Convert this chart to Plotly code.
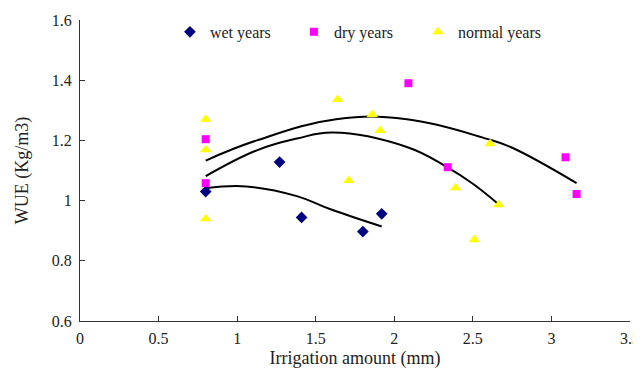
import plotly.graph_objects as go

# Data
wet_x = [0.80, 1.27, 1.41, 1.80, 1.92]
wet_y = [1.03, 1.128, 0.944, 0.897, 0.956]

dry_x = [0.80, 0.80, 2.09, 2.34, 3.09, 3.16]
dry_y = [1.204, 1.058, 1.39, 1.111, 1.144, 1.022]

normal_x = [0.80, 0.80, 0.80, 1.64, 1.71, 1.86, 1.91, 2.39, 2.51, 2.61, 2.665]
normal_y = [1.27, 1.169, 0.94, 1.336, 1.067, 1.286, 1.233, 1.043, 0.87, 1.189, 0.986]

# Trend curves
wet_trend_x = [0.80, 1.06, 1.38, 1.59, 1.92]
wet_trend_y = [1.041, 1.047, 1.015, 0.972, 0.914]

normal_trend_x = [0.80, 1.125, 1.38, 1.61, 2.08, 2.33, 2.50, 2.665]
normal_trend_y = [1.081, 1.167, 1.206, 1.226, 1.178, 1.113, 1.056, 0.987]

dry_trend_x = [0.80, 1.125, 1.63, 2.08, 2.59, 2.74, 3.16]
dry_trend_y = [1.133, 1.200, 1.270, 1.270, 1.205, 1.178, 1.058]

x_ticks = [0, 0.5, 1, 1.5, 2, 2.5, 3, 3.5]
y_ticks = [0.6, 0.8, 1.0, 1.2, 1.4, 1.6]

FONT = "'Times New Roman', 'Liberation Serif', Times, serif"

fig = go.Figure()

for tx, ty in [(wet_trend_x, wet_trend_y), (normal_trend_x, normal_trend_y), (dry_trend_x, dry_trend_y)]:
    fig.add_trace(go.Scatter(x=tx, y=ty, mode="lines", showlegend=False,
                             line=dict(color="black", width=2, shape="spline", smoothing=1.2),
                             hoverinfo="skip"))

fig.add_trace(go.Scatter(x=wet_x, y=wet_y, mode="markers", name="wet years",
                         marker=dict(symbol="diamond", size=9, color="#000080")))
fig.add_trace(go.Scatter(x=dry_x, y=dry_y, mode="markers", name="dry years",
                         marker=dict(symbol="square", size=8, color="#FF00FF")))
fig.add_trace(go.Scatter(x=normal_x, y=normal_y, mode="markers", name="normal years",
                         marker=dict(symbol="triangle-up", size=10, color="#FFFF00")))

fig.update_layout(
    width=641, height=366,
    margin=dict(l=72, r=19, t=12, b=53, autoexpand=False),
    paper_bgcolor="white", plot_bgcolor="white",
    font=dict(family=FONT, size=16, color="#222"),
    legend=dict(orientation="h", x=0.1635, y=1.017, xanchor="left", yanchor="top",
                font=dict(family=FONT, size=16, color="#222"),
                bgcolor="rgba(0,0,0,0)", itemwidth=30,
                entrywidth=79, entrywidthmode="pixels"),
    xaxis=dict(range=[0, 3.5], tickvals=x_ticks, ticktext=[f"{v:g}" for v in x_ticks],
               showgrid=False, zeroline=False, showline=True, linecolor="#333", linewidth=1,
               ticks="inside", ticklen=5, tickcolor="#333", ticklabelstandoff=3,
               title=dict(text="Irrigation amount (mm)", font=dict(family=FONT, size=18), standoff=5),
               tickfont=dict(family=FONT, size=16)),
    yaxis=dict(range=[0.6, 1.6], tickvals=y_ticks, ticktext=[f"{v:g}" for v in y_ticks],
               showgrid=False, zeroline=False, showline=True, linecolor="#333", linewidth=1,
               ticks="inside", ticklen=5, tickcolor="#333", ticklabelstandoff=4,
               title=dict(text="WUE (Kg/m3)", font=dict(family=FONT, size=18), standoff=18),
               tickfont=dict(family=FONT, size=16)),
)

fig.write_html("out.html")
